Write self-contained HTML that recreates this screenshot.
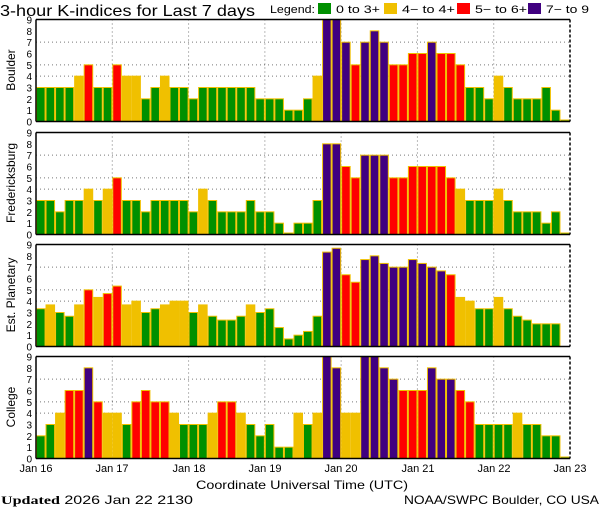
<!DOCTYPE html>
<html><head><meta charset="utf-8"><style>
html,body{margin:0;padding:0;background:#fff;width:600px;height:510px;overflow:hidden}
svg{display:block}
text{font-family:"Liberation Sans",sans-serif;fill:#000}
</style></head><body>
<svg id="s" width="600" height="510" viewBox="0 0 600 510" xmlns="http://www.w3.org/2000/svg">
<text x="0" y="16" font-size="16" textLength="255" lengthAdjust="spacingAndGlyphs">3-hour K-indices for Last 7 days</text>
<text x="270" y="13" font-size="11" textLength="45" lengthAdjust="spacingAndGlyphs">Legend:</text>
<rect x="318" y="3" width="13" height="11" fill="#009000"/>
<text x="336" y="13" font-size="11" textLength="44" lengthAdjust="spacingAndGlyphs">0 to 3+</text>
<rect x="384" y="3" width="13" height="11" fill="#f0c000"/>
<text x="402" y="13" font-size="11" textLength="53" lengthAdjust="spacingAndGlyphs">4− to 4+</text>
<rect x="457" y="3" width="13" height="11" fill="#ff0000"/>
<text x="475" y="13" font-size="11" textLength="52" lengthAdjust="spacingAndGlyphs">5− to 6+</text>
<rect x="528" y="3" width="13" height="11" fill="#400080"/>
<text x="546" y="13" font-size="11" textLength="43" lengthAdjust="spacingAndGlyphs">7− to 9</text>
<g id="bars"></g>
<text transform="translate(15,70) rotate(-90)" font-size="12" text-anchor="middle">Boulder</text>
<text transform="translate(15,183) rotate(-90)" font-size="12" text-anchor="middle">Fredericksburg</text>
<text transform="translate(15,295) rotate(-90)" font-size="12" text-anchor="middle">Est. Planetary</text>
<text transform="translate(15,407) rotate(-90)" font-size="12" text-anchor="middle">College</text>
<g font-size="11" text-anchor="middle">
<text x="36" y="472">Jan 16</text><text x="112" y="472">Jan 17</text><text x="189" y="472">Jan 18</text><text x="265" y="472">Jan 19</text><text x="341" y="472">Jan 20</text><text x="418" y="472">Jan 21</text><text x="494" y="472">Jan 22</text><text x="570" y="472">Jan 23</text>
</g>
<text x="302" y="489" font-size="12" text-anchor="middle" textLength="212" lengthAdjust="spacingAndGlyphs">Coordinate Universal Time (UTC)</text>
<text x="1" y="504" font-size="12" textLength="192" lengthAdjust="spacingAndGlyphs"><tspan font-weight="bold" font-family="Liberation Serif,serif">Updated</tspan> 2026 Jan 22 2130</text>
<text x="599" y="504" font-size="12" text-anchor="end" textLength="195" lengthAdjust="spacingAndGlyphs">NOAA/SWPC Boulder, CO USA</text>
</svg>
<script>
var D=[
[3,3,3,3,4,5,3,3,5,4,4,2,3,4,3,3,2,3,3,3,3,3,3,2,2,2,1,1,2,4,9,9,7,5,7,8,7,5,5,6,6,7,6,6,5,3,3,2,4,3,2,2,2,3,1,0],
[3,3,2,3,3,4,3,4,5,3,3,2,3,3,3,3,2,4,3,2,2,2,3,2,2,1,0,1,1,3,8,8,6,5,7,7,7,5,5,6,6,6,6,5,4,3,3,3,4,3,2,2,2,1,2,0],
[3.33,3.67,3,2.67,3.67,5,4.33,4.67,5.33,3.67,4,3,3.33,3.67,4,4,3,3.67,2.67,2.33,2.33,2.67,3.67,3,3.33,1.67,0.67,1,1.33,2.67,8.33,8.67,6.33,5.67,7.67,8,7.33,7,7,7.67,7.33,7,6.67,6.33,4.33,4,3.33,3.33,4.33,3.33,2.67,2.33,2,2,2,null],
[2,3,4,6,6,8,5,4,4,3,5,6,5,5,4,3,3,3,4,5,5,4,3,2,3,1,1,4,3,4,9,8,4,4,9,9,8,7,6,6,6,8,7,7,6,5,3,3,3,3,4,3,3,2,2,0]];
var tops=[19.5,132.5,244.5,356.5],H=102,U=H/9,x0=36,x1=570,bw=(x1-x0)/56;
var ns="http://www.w3.org/2000/svg",g=document.getElementById('bars');
function el(t,a){var e=document.createElementNS(ns,t);for(var k in a)e.setAttribute(k,a[k]);g.appendChild(e);return e;}
function col(v){return v<3.5?'#009000':v<4.5?'#f0c000':v<6.5?'#ff0000':'#400080';}
for(var p=0;p<4;p++){
 var t=tops[p],b=t+H;
 [4,5,7].forEach(function(v){el('line',{x1:x0,x2:x1,y1:b-v*U,y2:b-v*U,stroke:'#777','stroke-dasharray':'1,3'});});
 for(var d=1;d<7;d++){var x=x0+d*8*bw;el('line',{x1:x,x2:x,y1:t,y2:b,stroke:'#777','stroke-dasharray':'1,3'});}
 for(var i=0;i<56;i++){var v=D[p][i];if(v===null)continue;var h=v===0?1.5:v*U;
  el('rect',{x:x0+i*bw+0.5,y:b-h,width:bw-1,height:h,fill:col(v),stroke:'#f0c000','stroke-width':1});}
 el('line',{x1:x0,x2:x1,y1:t,y2:t,stroke:'#000','stroke-width':1.5});
 el('line',{x1:x0,x2:x1,y1:b,y2:b,stroke:'#000','stroke-width':1.5});
 el('line',{x1:x0,x2:x0,y1:t,y2:b,stroke:'#000','stroke-width':1.5});
 el('line',{x1:x1,x2:x1,y1:t,y2:b,stroke:'#000','stroke-width':1.5,'stroke-dasharray':'3,2'});
 for(var k=0;k<=9;k++){var tx=el('text',{x:32,y:b-k*U+4,'font-size':10,'text-anchor':'end'});tx.textContent=k;}
}
</script>
</body></html>
